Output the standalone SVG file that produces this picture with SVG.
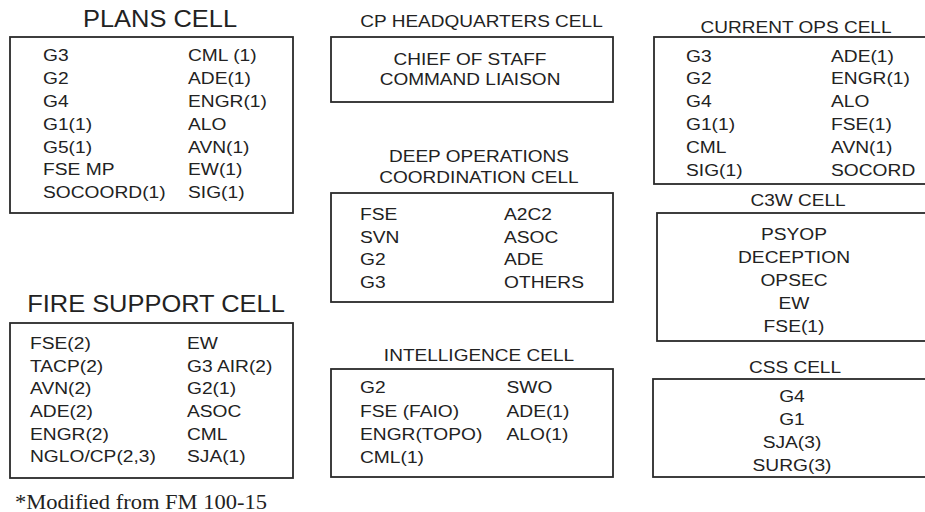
<svg xmlns="http://www.w3.org/2000/svg" width="925" height="512" viewBox="0 0 925 512">
<style>
  .box { fill: #ffffff; stroke: #2a2a2a; stroke-width: 1.8; }
  text { font-family: "Liberation Sans", Arial, sans-serif; fill: #222222; }
  .it { font-size: 17px; }
  .sm { font-size: 17px; text-anchor: middle; }
  .big { font-size: 24px; text-anchor: middle; }
  .c { text-anchor: middle; }
  .note { font-family: "Liberation Serif", "Times New Roman", serif; font-size: 21px; }
</style>
<rect x="0" y="0" width="925" height="512" fill="#ffffff"/>

<g id="plans-cell">
  <g transform="translate(160 0) scale(1.06 1)"><text class="big" y="27">PLANS CELL</text></g>
  <rect class="box" x="10" y="37" width="283" height="176"/>
  <g transform="translate(43 0) scale(1.13 1)" class="it">
    <text class="it" y="61.5">G3</text>
    <text class="it" y="84.3">G2</text>
    <text class="it" y="107.1">G4</text>
    <text class="it" y="129.9">G1(1)</text>
    <text class="it" y="152.7">G5(1)</text>
    <text class="it" y="175.5">FSE MP</text>
    <text class="it" y="198.3">SOCOORD(1)</text>
  </g>
  <g transform="translate(188 0) scale(1.13 1)">
    <text class="it" y="61.5">CML (1)</text>
    <text class="it" y="84.3">ADE(1)</text>
    <text class="it" y="107.1">ENGR(1)</text>
    <text class="it" y="129.9">ALO</text>
    <text class="it" y="152.7">AVN(1)</text>
    <text class="it" y="175.5">EW(1)</text>
    <text class="it" y="198.3">SIG(1)</text>
  </g>
</g>

<g id="cp-headquarters-cell">
  <g transform="translate(481.5 0) scale(1.12 1)"><text class="sm" y="27">CP HEADQUARTERS CELL</text></g>
  <rect class="box" x="331" y="37" width="282" height="65"/>
  <g transform="translate(470 0) scale(1.12 1)">
    <text class="sm" y="65">CHIEF OF STAFF</text>
    <text class="sm" y="85">COMMAND LIAISON</text>
  </g>
</g>

<g id="deep-operations-coordination-cell">
  <g transform="translate(479 0) scale(1.12 1)">
    <text class="sm" y="162">DEEP OPERATIONS</text>
    <text class="sm" y="183">COORDINATION CELL</text>
  </g>
  <rect class="box" x="331" y="193" width="282" height="109"/>
  <g transform="translate(360 0) scale(1.13 1)">
    <text class="it" y="220.5">FSE</text>
    <text class="it" y="243">SVN</text>
    <text class="it" y="265.5">G2</text>
    <text class="it" y="288">G3</text>
  </g>
  <g transform="translate(504 0) scale(1.13 1)">
    <text class="it" y="220.5">A2C2</text>
    <text class="it" y="243">ASOC</text>
    <text class="it" y="265.5">ADE</text>
    <text class="it" y="288">OTHERS</text>
  </g>
</g>

<g id="intelligence-cell">
  <g transform="translate(479 0) scale(1.12 1)"><text class="sm" y="361">INTELLIGENCE CELL</text></g>
  <rect class="box" x="331" y="369" width="282" height="108"/>
  <g transform="translate(360 0) scale(1.13 1)">
    <text class="it" y="393.5">G2</text>
    <text class="it" y="416.7">FSE (FAIO)</text>
    <text class="it" y="439.9">ENGR(TOPO)</text>
    <text class="it" y="463.1">CML(1)</text>
  </g>
  <g transform="translate(506.5 0) scale(1.13 1)">
    <text class="it" y="393.5">SWO</text>
    <text class="it" y="416.7">ADE(1)</text>
    <text class="it" y="439.9">ALO(1)</text>
  </g>
</g>

<g id="fire-support-cell">
  <g transform="translate(156 0) scale(1.06 1)"><text class="big" y="312.5">FIRE SUPPORT CELL</text></g>
  <rect class="box" x="10" y="323" width="283" height="155"/>
  <g transform="translate(30 0) scale(1.13 1)">
    <text class="it" y="349">FSE(2)</text>
    <text class="it" y="371.7">TACP(2)</text>
    <text class="it" y="394.4">AVN(2)</text>
    <text class="it" y="417.1">ADE(2)</text>
    <text class="it" y="439.8">ENGR(2)</text>
    <text class="it" y="462.5">NGLO/CP(2,3)</text>
  </g>
  <g transform="translate(187 0) scale(1.13 1)">
    <text class="it" y="349">EW</text>
    <text class="it" y="371.7">G3 AIR(2)</text>
    <text class="it" y="394.4">G2(1)</text>
    <text class="it" y="417.1">ASOC</text>
    <text class="it" y="439.8">CML</text>
    <text class="it" y="462.5">SJA(1)</text>
  </g>
</g>

<g id="current-ops-cell">
  <g transform="translate(796 0) scale(1.12 1)"><text class="sm" y="33">CURRENT OPS CELL</text></g>
  <rect class="box" x="654" y="37" width="280" height="147"/>
  <g transform="translate(686 0) scale(1.13 1)">
    <text class="it" y="61.7">G3</text>
    <text class="it" y="84.5">G2</text>
    <text class="it" y="107.3">G4</text>
    <text class="it" y="130.1">G1(1)</text>
    <text class="it" y="152.9">CML</text>
    <text class="it" y="175.7">SIG(1)</text>
  </g>
  <g transform="translate(831 0) scale(1.13 1)">
    <text class="it" y="61.7">ADE(1)</text>
    <text class="it" y="84.5">ENGR(1)</text>
    <text class="it" y="107.3">ALO</text>
    <text class="it" y="130.1">FSE(1)</text>
    <text class="it" y="152.9">AVN(1)</text>
    <text class="it" y="175.7">SOCORD</text>
  </g>
</g>

<g id="c3w-cell">
  <g transform="translate(798 0) scale(1.12 1)"><text class="sm" y="206">C3W CELL</text></g>
  <rect class="box" x="657" y="213" width="280" height="128"/>
  <g transform="translate(794 0) scale(1.13 1)">
    <text class="sm" y="240">PSYOP</text>
    <text class="sm" y="262.9">DECEPTION</text>
    <text class="sm" y="285.8">OPSEC</text>
    <text class="sm" y="308.7">EW</text>
    <text class="sm" y="331.6">FSE(1)</text>
  </g>
</g>

<g id="css-cell">
  <g transform="translate(795 0) scale(1.12 1)"><text class="sm" y="373">CSS CELL</text></g>
  <rect class="box" x="653" y="379" width="280" height="98"/>
  <g transform="translate(792 0) scale(1.13 1)">
    <text class="sm" y="402.5">G4</text>
    <text class="sm" y="425.5">G1</text>
    <text class="sm" y="448.5">SJA(3)</text>
    <text class="sm" y="471.5">SURG(3)</text>
  </g>
</g>

<g id="connectors"></g>

<text class="note" x="15" y="508.5" textLength="252" lengthAdjust="spacingAndGlyphs">*Modified from FM 100-15</text>
</svg>
